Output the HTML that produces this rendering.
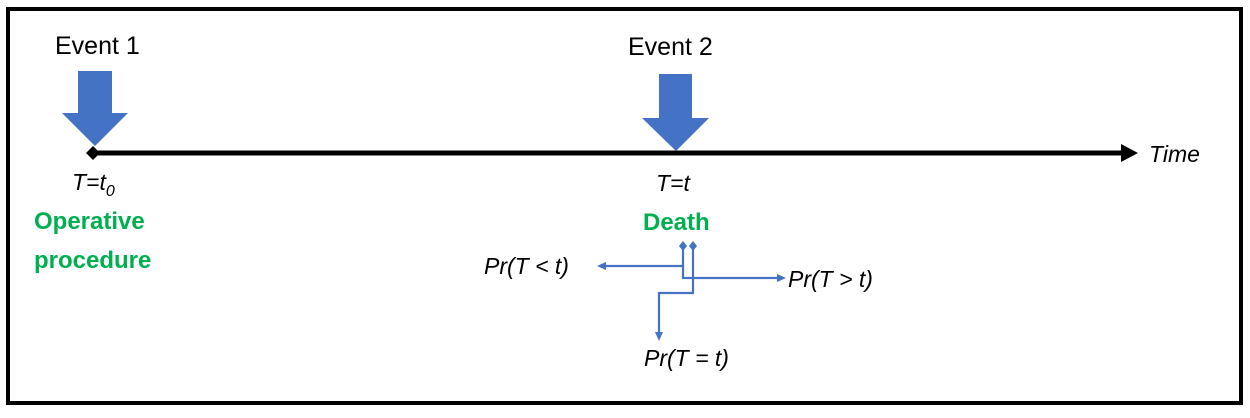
<!DOCTYPE html>
<html><head><meta charset="utf-8"><style>
html,body{margin:0;padding:0;background:#fff;}
body{width:1250px;height:413px;overflow:hidden;}
</style></head><body>
<svg width="1250" height="413" viewBox="0 0 1250 413" xmlns="http://www.w3.org/2000/svg" font-family="Liberation Sans, sans-serif">
<rect x="8" y="9" width="1233" height="394" fill="#fff" stroke="#000" stroke-width="4"/>
<!-- timeline -->
<line x1="93" y1="153" x2="1124" y2="153" stroke="#000" stroke-width="5"/>
<polygon points="1121,144 1138,153 1121,162" fill="#000"/>
<polygon points="93,146 100,153 93,160 86,153" fill="#000"/>
<!-- event arrows -->
<polygon points="78,71 112,71 112,113 128,113 95,146 62,113 78,113" fill="#4472c4"/>
<polygon points="659,74 692,74 692,118 709,118 676,151 642,118 659,118" fill="#4472c4"/>
<text x="55" y="54" font-size="25" fill="#000">Event 1</text>
<text x="628" y="55" font-size="25" fill="#000">Event 2</text>
<text x="1149" y="162" font-size="23" font-style="italic">Time</text>
<text x="72" y="190" font-size="23" font-style="italic">T=t<tspan font-size="16" dy="6">0</tspan></text>
<text x="656" y="191" font-size="23" font-style="italic">T=t</text>
<text x="34" y="229" font-size="24" font-weight="bold" fill="#00b050">Operative</text>
<text x="34" y="268" font-size="24" font-weight="bold" fill="#00b050">procedure</text>
<text x="643" y="230" font-size="24" font-weight="bold" fill="#00b050">Death</text>
<!-- connectors -->
<g stroke="#4472c4" stroke-width="2.2" fill="none">
<polyline points="683,248 683,266 604,266"/>
<polyline points="683,266 683,278 779,278"/>
<polyline points="693,248 693,293 659,293 659,333"/>
</g>
<g fill="#4472c4">
<polygon points="683,241 687,246 683,251 679,246"/>
<polygon points="693,241 697,246 693,251 689,246"/>
<polygon points="597,266 606,262 606,270"/>
<polygon points="786,278 777,274 777,282"/>
<polygon points="659,341 655,332 663,332"/>
</g>
<text x="484" y="274" font-size="23" font-style="italic">Pr(T &lt; t)</text>
<text x="788" y="287" font-size="23" font-style="italic">Pr(T &gt; t)</text>
<text x="644" y="366" font-size="23" font-style="italic">Pr(T = t)</text>
</svg>
</body></html>
